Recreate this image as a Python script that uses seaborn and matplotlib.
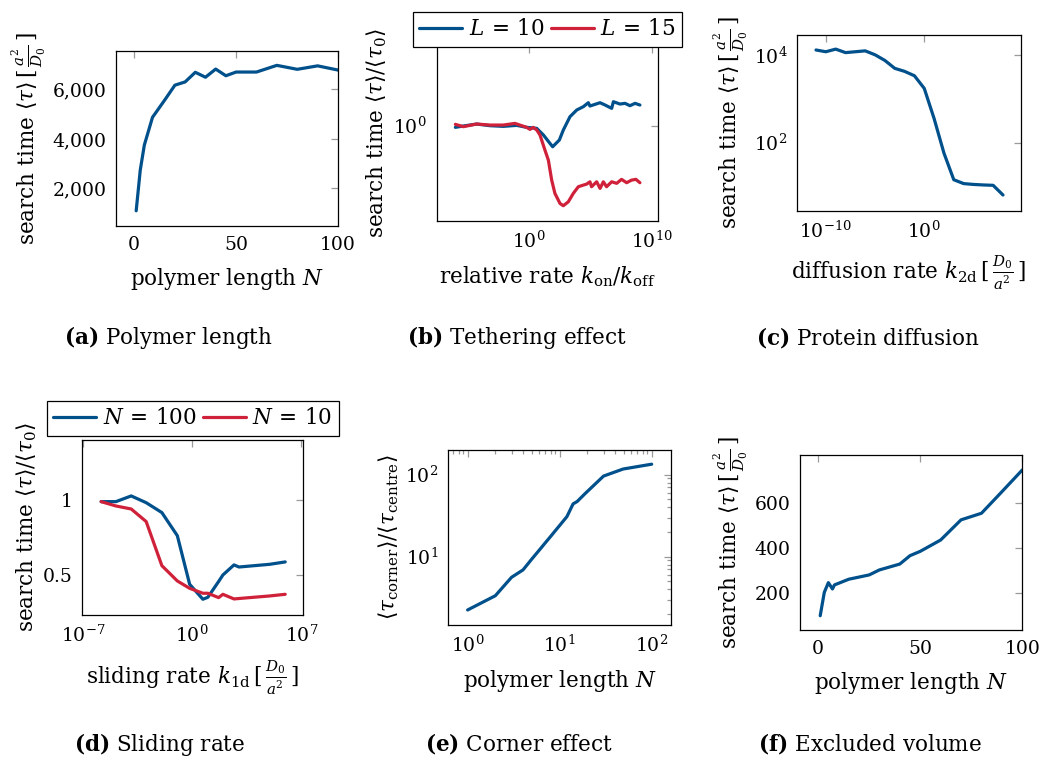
import numpy as np
import pandas as pd
import matplotlib
matplotlib.use("Agg")
import matplotlib.pyplot as plt
import seaborn as sns
from matplotlib.ticker import FuncFormatter, NullLocator, LogLocator, NullFormatter, FixedLocator

# ---------------- data ----------------
# (a) Polymer length
N_a = [1, 3, 5, 9, 15, 20, 25, 30, 35, 40, 45, 50, 60, 70, 80, 90, 100]
tau_a = [1095, 2740, 3750, 4870, 5570, 6170, 6300, 6690, 6490, 6820, 6550, 6700, 6700, 6970, 6810, 6950, 6780]

# (b) Tethering effect
rate_b_L10 = [1e-6, 4.5e-6, 5.4e-5, 6.6e-4, 8.1e-3, 0.1, 0.65, 4.3, 15, 51, 85, 300, 630,
              2.2e3, 7.8e3, 2.7e4, 6.9e4, 9.3e4, 6.2e5, 1.6e6, 5.5e6, 7.6e6, 2.6e7, 6.8e7,
              1.7e8, 4.4e8, 1.1e9]
tau_b_L10 = [0.975, 0.995, 1.026, 1.0, 0.990, 1.005, 0.975, 0.960, 0.867, 0.763, 0.724, 0.803, 0.936,
             1.148, 1.272, 1.339, 1.423, 1.352, 1.423, 1.373, 1.305, 1.445, 1.394, 1.409,
             1.359, 1.409, 1.373]
rate_b_L15 = [1e-6, 4.5e-6, 5.4e-5, 6.6e-4, 8.1e-3, 0.072, 0.65, 1.2, 2.2, 4.3, 7.9, 20, 38, 71,
              130, 340, 630, 1.6e3, 4.1e3, 1.05e4, 2.7e4, 5e4, 9.3e4, 1.26e5, 3.3e5, 6.2e5,
              1.15e6, 2.1e6, 5.5e6, 1.4e7, 3.5e7, 9.1e7, 2.3e8, 5.2e8, 1.1e9]
tau_b_L15 = [1.021, 0.985, 1.026, 1.010, 1.010, 1.036, 0.975, 0.945, 0.975, 0.936, 0.867, 0.688, 0.590, 0.434,
             0.354, 0.303, 0.293, 0.311, 0.354, 0.392, 0.402, 0.408, 0.423, 0.392, 0.423, 0.382,
             0.423, 0.392, 0.423, 0.413, 0.439, 0.417, 0.434, 0.439, 0.417]

# (c) Protein diffusion
rate_c = [1e-11, 1e-10, 1e-9, 1e-8, 1e-7, 1e-6, 1e-5, 1e-4, 1e-3, 1e-2, 1e-1, 1e0,
          1e1, 1e2, 1e3, 1e4, 1e5, 1e6, 1e7, 1e8]
tau_c = [13180, 12020, 13800, 11480, 12020, 12590, 10230, 7590, 5010, 4270, 3390, 1740,
         355, 57.5, 14.1, 11.5, 11.0, 10.7, 10.5, 6.3]

# (d) Sliding rate
rate_d = [1.41e-6, 1.26e-5, 1.2e-4, 1.1e-3, 1.12e-2, 0.11, 0.68, 4.8, 10, 49, 93, 479, 1000, 9.3e4, 9.3e5]
tau_d_N100 = [0.989, 0.989, 1.027, 0.982, 0.916, 0.762, 0.438, 0.338, 0.351, 0.456, 0.500, 0.567, 0.553, 0.571, 0.587]
tau_d_N10 = [0.989, 0.960, 0.940, 0.856, 0.562, 0.460, 0.411, 0.378, 0.378, 0.349, 0.371, 0.340, 0.343, 0.360, 0.371]

# (e) Corner effect
N_e = [1, 2, 3, 4, 5, 6, 7, 8, 9, 10, 12, 14, 15.5, 19, 30, 49, 100]
ratio_e = [2.24, 3.34, 5.6, 6.9, 9.4, 12.0, 14.8, 17.7, 20.8, 24.0, 30.8, 44.0, 47.0, 59.0, 96.0, 117.0, 134.0]

# (f) Excluded volume
N_f = [1, 3, 5, 7, 8, 10, 15, 25, 30, 40, 45, 50, 60, 70, 80, 90, 100]
tau_f = [101, 204, 247, 219, 237, 244, 262, 281, 303, 329, 366, 385, 435, 524, 553, 648, 744]

captions = ["(a)", "(b)", "(c)", "(d)", "(e)", "(f)"]
caption_texts = ["Polymer length", "Tethering effect", "Protein diffusion",
                 "Sliding rate", "Corner effect", "Excluded volume"]

# ---------------- style ----------------
sns.set_theme(style="white")
plt.rcParams["font.family"] = ["DejaVu Serif"]
plt.rcParams["mathtext.fontset"] = "dejavuserif"
plt.rcParams["axes.linewidth"] = 0.9
plt.rcParams["axes.edgecolor"] = "black"
plt.rcParams["text.color"] = "black"
plt.rcParams["axes.labelcolor"] = "black"
plt.rcParams["xtick.color"] = "black"
plt.rcParams["ytick.color"] = "black"

BLUE = "#00508c"
RED = "#d0213a"
LW = 2.3
FS_TICK = 13.5
FS_LAB = 15.5
FS_LEG = 15.5
FS_CAP = 15.5

W, H = 1043, 760
fig = plt.figure(figsize=(W / 100, H / 100), dpi=100)
fig.patch.set_facecolor("white")


def add_ax(x0, y0, x1, y1):
    return fig.add_axes([x0 / W, 1 - y1 / H, (x1 - x0) / W, (y1 - y0) / H])


def style(ax):
    ax.set_facecolor("white")
    for s in ax.spines.values():
        s.set_visible(True)
        s.set_color("black")
        s.set_linewidth(0.9)
    ax.tick_params(which="both", direction="in", top=True, right=True,
                   color="#9a9a9a", width=0.9, labelsize=FS_TICK, pad=7,
                   labelcolor="black")
    ax.tick_params(which="major", length=5)
    ax.tick_params(which="minor", length=3)


ylab_time = r"search time $\langle\tau\rangle\,[\,\frac{a^2}{D_0}\,]$"
ylab_ratio = r"search time $\langle\tau\rangle/\langle\tau_0\rangle$"
comma = FuncFormatter(lambda v, p: f"{int(v):,}")


def legend(ax, y_anchor):
    leg = ax.legend(loc="lower center", bbox_to_anchor=(0.5, y_anchor), ncol=2, fontsize=FS_LEG,
                    frameon=True, fancybox=False, framealpha=1, edgecolor="black",
                    handlelength=2.0, handletextpad=0.3, columnspacing=0.3, borderpad=0.3,
                    borderaxespad=0)
    leg.get_frame().set_linewidth(0.9)
    for t in leg.get_texts():
        t.set_color("black")


# (a)
ax = add_ax(116, 51, 338, 226)
sns.lineplot(x=N_a, y=tau_a, ax=ax, color=BLUE, linewidth=LW)
ax.set_xlim(-8.9, 100)
ax.set_ylim(480, 7550)
ax.set_xticks([0, 50, 100])
ax.set_yticks([2000, 4000, 6000])
ax.yaxis.set_major_formatter(comma)
style(ax)
ax.set_xlabel(r"polymer length $N$", fontsize=FS_LAB, labelpad=9)
ax.set_ylabel(ylab_time, fontsize=FS_LAB, labelpad=3)

# (b)
ax = add_ax(436.7, 46, 658.3, 220.7)
sns.lineplot(x=rate_b_L10, y=tau_b_L10, ax=ax, color=BLUE, linewidth=LW, label=r"$L\,=\,10$")
sns.lineplot(x=rate_b_L15, y=tau_b_L15, ax=ax, color=RED, linewidth=LW, label=r"$L\,=\,15$")
ax.set_xscale("log")
ax.set_yscale("log")
ax.set_xlim(10 ** -7.52, 10 ** 10.54)
ax.set_ylim(10 ** -0.633, 10 ** 0.531)
ax.xaxis.set_major_locator(FixedLocator([1, 1e10]))
ax.yaxis.set_major_locator(FixedLocator([1]))
ax.xaxis.set_minor_locator(NullLocator())
ax.yaxis.set_minor_locator(NullLocator())
style(ax)
ax.set_xlabel(r"relative rate $k_{\mathrm{on}}/k_{\mathrm{off}}$", fontsize=FS_LAB, labelpad=9)
ax.set_ylabel(ylab_ratio, fontsize=FS_LAB, labelpad=3)
legend(ax, 0.995)

# (c)
ax = add_ax(797.3, 34.7, 1020.7, 210.7)
sns.lineplot(x=rate_c, y=tau_c, ax=ax, color=BLUE, linewidth=LW)
ax.set_xscale("log")
ax.set_yscale("log")
ax.set_xlim(10 ** -12.9, 10 ** 9.8)
ax.set_ylim(10 ** 0.44, 10 ** 4.47)
ax.xaxis.set_major_locator(FixedLocator([1e-10, 1]))
ax.yaxis.set_major_locator(FixedLocator([1e2, 1e4]))
ax.xaxis.set_minor_locator(NullLocator())
ax.yaxis.set_minor_locator(NullLocator())
style(ax)
ax.set_xlabel(r"diffusion rate $k_{\mathrm{2d}}\,[\,\frac{D_0}{a^2}\,]$", fontsize=FS_LAB, labelpad=9)
ax.set_ylabel(ylab_time, fontsize=FS_LAB, labelpad=3)

# (d)
ax = add_ax(82.3, 440, 303.3, 615)
sns.lineplot(x=rate_d, y=tau_d_N100, ax=ax, color=BLUE, linewidth=LW, label=r"$N\,=\,100$")
sns.lineplot(x=rate_d, y=tau_d_N10, ax=ax, color=RED, linewidth=LW, label=r"$N\,=\,10$")
ax.set_xscale("log")
ax.set_xlim(10 ** -7.06, 10 ** 7.13)
ax.set_ylim(0.233, 1.4)
ax.xaxis.set_major_locator(FixedLocator([1e-7, 1, 1e7]))
ax.xaxis.set_minor_locator(NullLocator())
ax.set_yticks([0.5, 1])
ax.set_yticklabels(["0.5", "1"])
style(ax)
ax.set_xlabel(r"sliding rate $k_{\mathrm{1d}}\,[\,\frac{D_0}{a^2}\,]$", fontsize=FS_LAB, labelpad=9)
ax.set_ylabel(ylab_ratio, fontsize=FS_LAB, labelpad=3)
legend(ax, 1.025)

# (e)
ax = add_ax(448.3, 450, 671, 625)
sns.lineplot(x=N_e, y=ratio_e, ax=ax, color=BLUE, linewidth=LW)
ax.set_xscale("log")
ax.set_yscale("log")
ax.set_xlim(10 ** -0.21, 10 ** 2.21)
ax.set_ylim(10 ** 0.167, 10 ** 2.30)
ax.xaxis.set_major_locator(FixedLocator([1, 10, 100]))
ax.yaxis.set_major_locator(FixedLocator([10, 100]))
ax.xaxis.set_minor_locator(LogLocator(base=10, subs=np.arange(2, 10), numticks=100))
ax.yaxis.set_minor_locator(LogLocator(base=10, subs=np.arange(2, 10), numticks=100))
ax.xaxis.set_minor_formatter(NullFormatter())
ax.yaxis.set_minor_formatter(NullFormatter())
style(ax)
ax.set_xlabel(r"polymer length $N$", fontsize=FS_LAB, labelpad=9)
ax.set_ylabel(r"$\langle\tau_{\mathrm{corner}}\rangle/\langle\tau_{\mathrm{centre}}\rangle$", fontsize=FS_LAB, labelpad=3)

# (f)
ax = add_ax(800, 455, 1022.3, 630)
sns.lineplot(x=N_f, y=tau_f, ax=ax, color=BLUE, linewidth=LW)
ax.set_xlim(-8.9, 100)
ax.set_ylim(38, 810)
ax.set_xticks([0, 50, 100])
ax.set_yticks([200, 400, 600])
style(ax)
ax.set_xlabel(r"polymer length $N$", fontsize=FS_LAB, labelpad=9)
ax.set_ylabel(ylab_time, fontsize=FS_LAB, labelpad=3)

# captions
cap_pos = [(168, 338), (517, 338), (868, 338), (160, 744), (519, 744), (870, 744)]
for (cx, cy), tag, txt in zip(cap_pos, captions, caption_texts):
    fig.text(cx / W, 1 - cy / H, r"$\mathbf{" + tag + r"}$ " + txt,
             ha="center", va="center", fontsize=FS_CAP)

fig.savefig("out.png", dpi=100, facecolor="white")
